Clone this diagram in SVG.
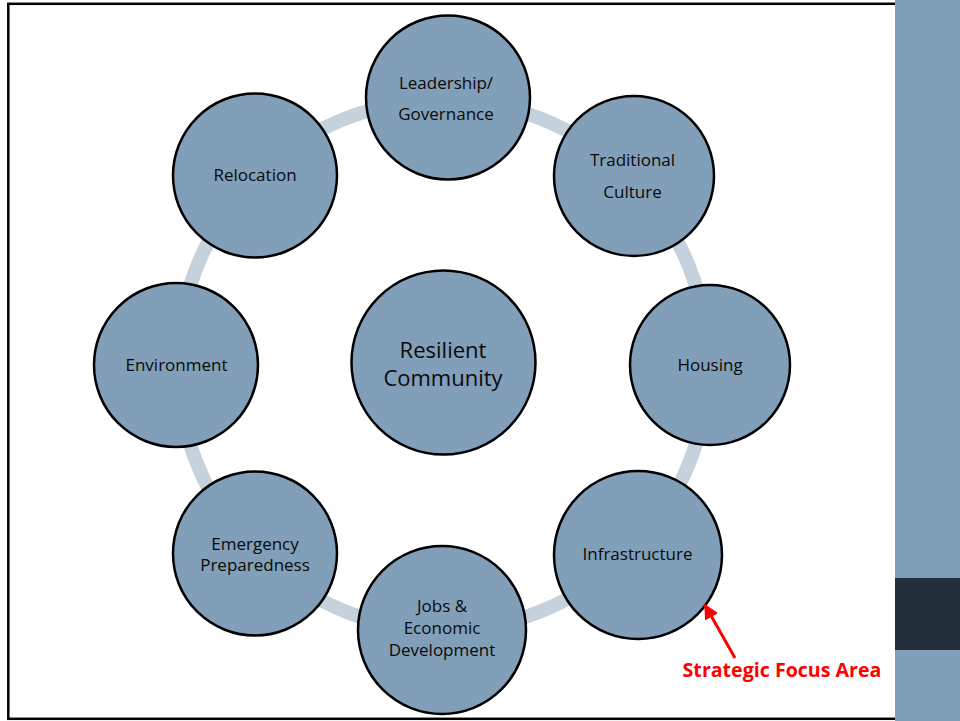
<svg xmlns="http://www.w3.org/2000/svg" width="960" height="721" viewBox="0 0 960 721">
<defs>
<style>
.node{fill:#819fb8;stroke:#000;stroke-width:2.5}
.lbl{font-family:"Open Sans","Noto Sans",sans-serif;font-size:17px;fill:#0a0a0a;text-anchor:middle}
.big{font-size:22px}
.ring{fill:none;stroke:#c5d2de;stroke-width:14}
.red{font-family:"Open Sans","Noto Sans",sans-serif;font-size:19.6px;font-weight:bold;fill:#ff0000;text-anchor:middle}
</style>
<marker id="ah" viewBox="0 0 10 10" refX="9" refY="5" markerWidth="5" markerHeight="5" orient="auto" markerUnits="strokeWidth">
<path d="M0,0 L10,5 L0,10 z" fill="#ff0000"/>
</marker>
</defs>
<rect x="0" y="0" width="960" height="721" fill="#fff"/>
<rect x="8.3" y="3.8" width="900" height="715" fill="none" stroke="#000" stroke-width="2.5"/>
<rect x="895" y="0" width="65" height="721" fill="#819fb8"/>
<rect x="895" y="578" width="65" height="72" fill="#222e3a"/>
<g id="connectors">
<circle class="ring" cx="443" cy="365" r="265"/>
</g>
<g id="center">
<circle class="node" cx="443.5" cy="362.5" r="92"/>
<text class="lbl big" x="443" y="357.5">Resilient</text>
<text class="lbl big" x="443" y="385.5">Community</text>
</g>
<g id="leadership">
<circle class="node" cx="448" cy="97.5" r="82"/>
<text class="lbl" x="446" y="88.5">Leadership/</text>
<text class="lbl" x="446" y="119.5">Governance</text>
</g>
<g id="culture">
<circle class="node" cx="634" cy="176" r="80"/>
<text class="lbl" x="632.5" y="166">Traditional</text>
<text class="lbl" x="632.5" y="197.5">Culture</text>
</g>
<g id="housing">
<circle class="node" cx="710" cy="365" r="80"/>
<text class="lbl" x="710" y="370.5">Housing</text>
</g>
<g id="infrastructure">
<circle class="node" cx="638" cy="555" r="84"/>
<text class="lbl" x="637.5" y="560">Infrastructure</text>
</g>
<g id="jobs">
<circle class="node" cx="442" cy="630" r="84"/>
<text class="lbl" x="442" y="611.5">Jobs &amp;</text>
<text class="lbl" x="442" y="633.5">Economic</text>
<text class="lbl" x="442" y="655.5">Development</text>
</g>
<g id="emergency">
<circle class="node" cx="255" cy="553.5" r="82"/>
<text class="lbl" x="255" y="549.5">Emergency</text>
<text class="lbl" x="255" y="571">Preparedness</text>
</g>
<g id="environment">
<circle class="node" cx="176" cy="365" r="82"/>
<text class="lbl" x="176.5" y="370.5">Environment</text>
</g>
<g id="relocation">
<circle class="node" cx="255" cy="175.5" r="82"/>
<text class="lbl" x="255" y="181">Relocation</text>
</g>
<g id="callout">
<line x1="735" y1="658" x2="705" y2="605" stroke="#ff0000" stroke-width="3" marker-end="url(#ah)"/>
<text class="red" x="782" y="677">Strategic Focus Area</text>
</g>
</svg>
